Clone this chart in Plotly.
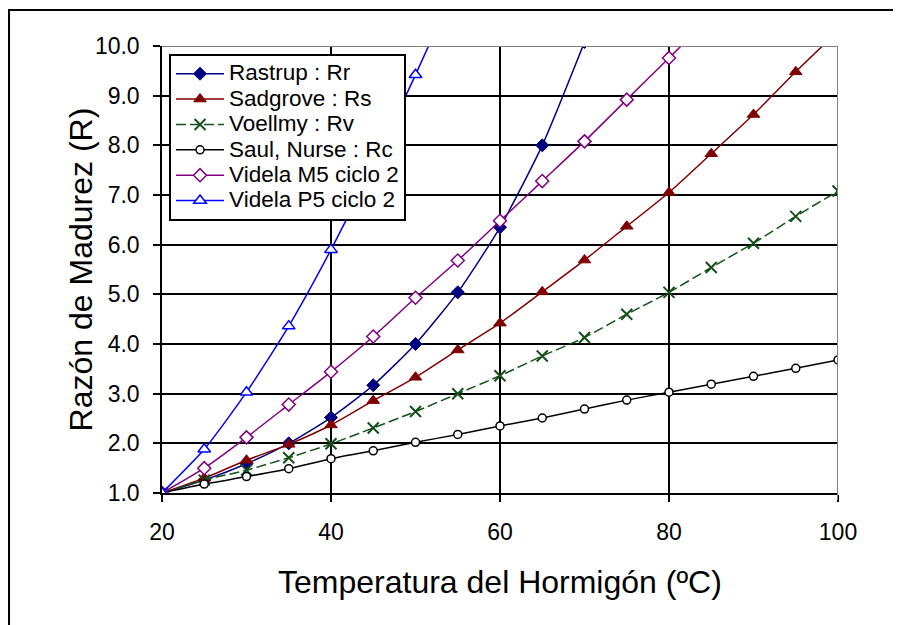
import plotly.graph_objects as go

temps = [20, 25, 30, 35, 40, 45, 50, 55, 60, 65, 70, 75, 80, 85, 90, 95, 100]

rastrup = [1.0, 1.26, 1.59, 2.0, 2.52, 3.17, 4.0, 5.04, 6.35, 8.0, 10.08]
sadgrove = [1.0, 1.3, 1.66, 1.98, 2.37, 2.86, 3.33, 3.88, 4.42, 5.05, 5.69, 6.37, 7.05, 7.83, 8.62, 9.48, 10.3]
voellmy = [1.0, 1.26, 1.46, 1.71, 1.99, 2.31, 2.64, 3.0, 3.36, 3.76, 4.13, 4.6, 5.04, 5.54, 6.03, 6.57, 7.08]
saul = [1.0, 1.18, 1.33, 1.49, 1.69, 1.85, 2.02, 2.18, 2.35, 2.51, 2.69, 2.87, 3.03, 3.19, 3.35, 3.51, 3.68]
videla_m5 = [1.0, 1.5, 2.12, 2.78, 3.44, 4.15, 4.93, 5.68, 6.48, 7.28, 8.08, 8.92, 9.76, 10.6]
videla_p5 = [1.0, 1.88, 3.03, 4.36, 5.9, 7.6, 9.42, 11.3]

names = ["Rastrup : Rr", "Sadgrove : Rs", "Voellmy : Rv", "Saul, Nurse : Rc",
         "Videla M5 ciclo 2", "Videla P5 ciclo 2"]
x_ticks = [20, 40, 60, 80, 100]
y_ticks = [1, 2, 3, 4, 5, 6, 7, 8, 9, 10]

FONT = "Liberation Sans, Arial, sans-serif"

series = [
    (rastrup, dict(color="#000080", width=1.5), dict(symbol="diamond", size=10, color="#000080",
                                                      line=dict(color="#000080", width=1))),
    (sadgrove, dict(color="#800000", width=1.5), dict(symbol="triangle-up", size=11, color="#800000",
                                                       line=dict(color="#800000", width=1))),
    (voellmy, dict(color="#14501a", width=1.5, dash="10px,4px"), dict(symbol="x-thin", size=11,
                                                                         line=dict(color="#14501a", width=2))),
    (saul, dict(color="#000000", width=1.5), dict(symbol="circle", size=8, color="white",
                                                   line=dict(color="#000000", width=1.5))),
    (videla_m5, dict(color="#800080", width=1.5), dict(symbol="diamond", size=10, color="white",
                                                        line=dict(color="#800080", width=1.5))),
    (videla_p5, dict(color="#0000ff", width=1.5), dict(symbol="triangle-up", size=11, color="white",
                                                        line=dict(color="#0000ff", width=1.5))),
]

fig = go.Figure()
for name, (vals, ln, mk) in zip(names, series):
    fig.add_trace(go.Scatter(
        x=temps[:len(vals)], y=vals,
        name="<span style='font-size:22.5px'>" + name + "</span>",
        mode="lines+markers",
        line=dict(shape="spline", smoothing=0.6, **ln), marker=mk, cliponaxis=True,
    ))

fig.update_layout(
    width=893, height=617,
    margin=dict(l=154, r=63, t=38, b=132),
    paper_bgcolor="white", plot_bgcolor="white",
    font=dict(family=FONT, color="black", size=23),
    showlegend=True,
    legend=dict(
        x=0.0104, y=0.982, xanchor="left", yanchor="top",
        bgcolor="white", bordercolor="black", borderwidth=2,
        font=dict(family=FONT, size=17.2, color="black"),
        tracegroupgap=0, itemwidth=48,
    ),
    xaxis=dict(
        range=[20, 100], tickvals=x_ticks, ticktext=[str(v) for v in x_ticks],
        showgrid=True, gridcolor="black", gridwidth=1.5,
        showline=True, linecolor="black", linewidth=1.5,
        ticks="outside", ticklen=7, tickwidth=1.5, tickcolor="black",
        ticklabelstandoff=11,
        zeroline=False, fixedrange=True,
        tickfont=dict(family=FONT, size=23, color="black"),
    ),
    yaxis=dict(
        range=[1, 10], tickvals=y_ticks, tickformat=".1f",
        showgrid=True, gridcolor="black", gridwidth=1.5,
        showline=True, linecolor="black", linewidth=1.5,
        ticks="outside", ticklen=7, tickwidth=1.5, tickcolor="black",
        ticklabelstandoff=9,
        zeroline=False, fixedrange=True,
        tickfont=dict(family=FONT, size=23, color="black"),
    ),
    annotations=[
        dict(text="Temperatura del Hormigón (ºC)", xref="paper", yref="paper",
             x=0.5, y=-0.199, xanchor="center", yanchor="middle", showarrow=False,
             font=dict(family=FONT, size=32, color="black")),
        dict(text="Razón de Madurez (R)", xref="paper", yref="paper",
             x=-0.12, y=0.5, xanchor="center", yanchor="middle", showarrow=False,
             textangle=-90, font=dict(family=FONT, size=32, color="black")),
    ],
    shapes=[
        dict(type="line", xref="paper", yref="y", x0=0, x1=1, y0=10, y1=10,
             line=dict(color="#808080", width=2), layer="above"),
        dict(type="line", xref="x", yref="paper", x0=100, x1=100, y0=-0.015, y1=1,
             line=dict(color="#808080", width=2), layer="above"),
        dict(type="rect", xref="paper", yref="paper", x0=-0.2263, x1=1.11, y0=-0.33, y1=1.0805,
             line=dict(color="black", width=2), fillcolor="rgba(0,0,0,0)", layer="above"),
    ],
)

fig.write_html("out.html")
